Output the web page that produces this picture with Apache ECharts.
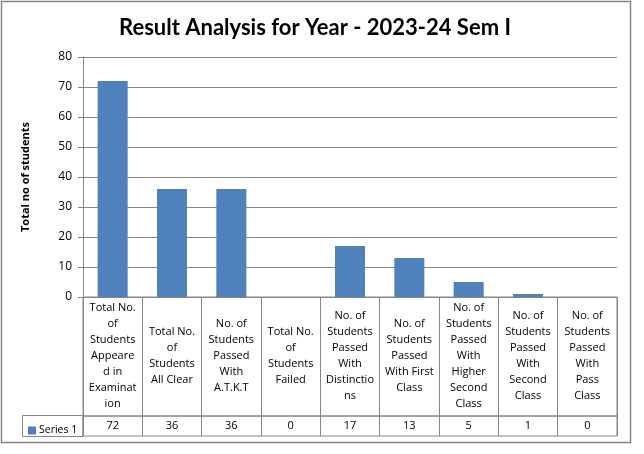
<!DOCTYPE html>
<html>
<head>
    <meta charset="utf-8">
    <script src="https://cdn.jsdelivr.net/npm/echarts@6/dist/echarts.min.js"></script>
    <style>
        html, body { margin: 0; padding: 0; background: #fff; }
    </style>
</head>
<body>
<div id="main" style="width: 644px;height: 454px;"></div>
<script type="text/javascript">
    // 数据
    var seriesName = 'Series 1';
    var categories = [
        'Total No.\nof\nStudents\nAppeare\nd in\nExaminat\nion',
        'Total No.\nof\nStudents\nAll Clear',
        'No. of\nStudents\nPassed\nWith\nA.T.K.T',
        'Total No.\nof\nStudents\nFailed',
        'No. of\nStudents\nPassed\nWith\nDistinctio\nns',
        'No. of\nStudents\nPassed\nWith First\nClass',
        'No. of\nStudents\nPassed\nWith\nHigher\nSecond\nClass',
        'No. of\nStudents\nPassed\nWith\nSecond\nClass',
        'No. of\nStudents\nPassed\nWith\nPass\nClass'
    ];
    var values = [72, 36, 36, 0, 17, 13, 5, 1, 0];
    var yTicks = [0, 10, 20, 30, 40, 50, 60, 70, 80];

    var lineColor = '#868686';
    var textFont = 'Open Sans';

    var myChart = echarts.init(document.getElementById('main'));

    var option = {
        animation: false,
        title: {
            text: 'Result Analysis for Year - 2023-24 Sem I',
            left: 114,
            top: 12,
            textStyle: {
                fontFamily: 'Lato',
                fontWeight: 'bold',
                fontSize: 22,
                color: '#000'
            }
        },
        legend: {
            data: [seriesName],
            left: 23,
            top: 420,
            icon: 'rect',
            itemWidth: 8,
            itemHeight: 8,
            itemGap: 3,
            textStyle: { fontFamily: textFont, fontSize: 10.5, color: '#000', padding: [0, 0, 0, -2] }
        },
        graphic: [{
            type: 'rect',
            shape: { x: 1.5, y: 1.5, width: 629, height: 441 },
            style: { fill: 'none', stroke: lineColor, lineWidth: 1.5 },
            silent: true
        }, {
            type: 'rect',
            shape: { x: 22.5, y: 415.5, width: 60.5, height: 21 },
            style: { fill: 'none', stroke: lineColor, lineWidth: 1 },
            silent: true
        }],
        grid: [
            { left: 83, right: 27, top: 57, bottom: 157 },
            { left: 83, right: 27, top: 297, bottom: 38, show: true, borderColor: lineColor, borderWidth: 1 },
            { left: 83, right: 27, top: 416, bottom: 18, show: true, borderColor: lineColor, borderWidth: 1 }
        ],
        xAxis: [{
            gridIndex: 0,
            type: 'category',
            data: categories,
            axisLine: { lineStyle: { color: lineColor } },
            axisTick: { show: false },
            axisLabel: { show: false }
        }, {
            gridIndex: 1,
            type: 'category',
            position: 'top',
            data: categories,
            axisLine: { show: false },
            axisTick: { show: false },
            splitLine: { show: true, interval: 0, lineStyle: { color: lineColor } },
            axisLabel: {
                inside: true,
                interval: 0,
                margin: 59,
                verticalAlign: 'middle',
                align: 'center',
                lineHeight: 16,
                fontFamily: textFont,
                fontSize: 11,
                color: '#000'
            }
        }, {
            gridIndex: 2,
            type: 'category',
            position: 'top',
            data: categories,
            axisLine: { show: false },
            axisTick: { show: false },
            splitLine: { show: true, interval: 0, lineStyle: { color: lineColor } },
            axisLabel: {
                inside: true,
                interval: 0,
                margin: 10,
                verticalAlign: 'middle',
                align: 'center',
                fontFamily: textFont,
                fontSize: 11,
                color: '#000',
                formatter: function (v, i) { return String(values[i]); }
            }
        }],
        yAxis: [{
            gridIndex: 0,
            type: 'value',
            min: yTicks[0],
            max: yTicks[yTicks.length - 1],
            interval: 10,
            name: 'Total no of students',
            nameLocation: 'middle',
            nameGap: 52,
            nameRotate: 90,
            nameTextStyle: { fontFamily: textFont, fontWeight: 'bold', fontSize: 11, color: '#000' },
            axisLine: { show: true, lineStyle: { color: lineColor } },
            axisTick: { show: true, length: 5, lineStyle: { color: lineColor } },
            splitLine: { show: true, lineStyle: { color: lineColor } },
            axisLabel: { margin: 11, fontFamily: textFont, fontSize: 12, color: '#000' }
        }, {
            gridIndex: 1, type: 'value', show: false, min: 0, max: 1
        }, {
            gridIndex: 2, type: 'value', show: false, min: 0, max: 1
        }],
        series: [{
            name: seriesName,
            type: 'bar',
            xAxisIndex: 0,
            yAxisIndex: 0,
            barWidth: 30,
            itemStyle: { color: '#4F81BD' },
            data: values
        }]
    };

    myChart.setOption(option);
</script>
</body>
</html>
